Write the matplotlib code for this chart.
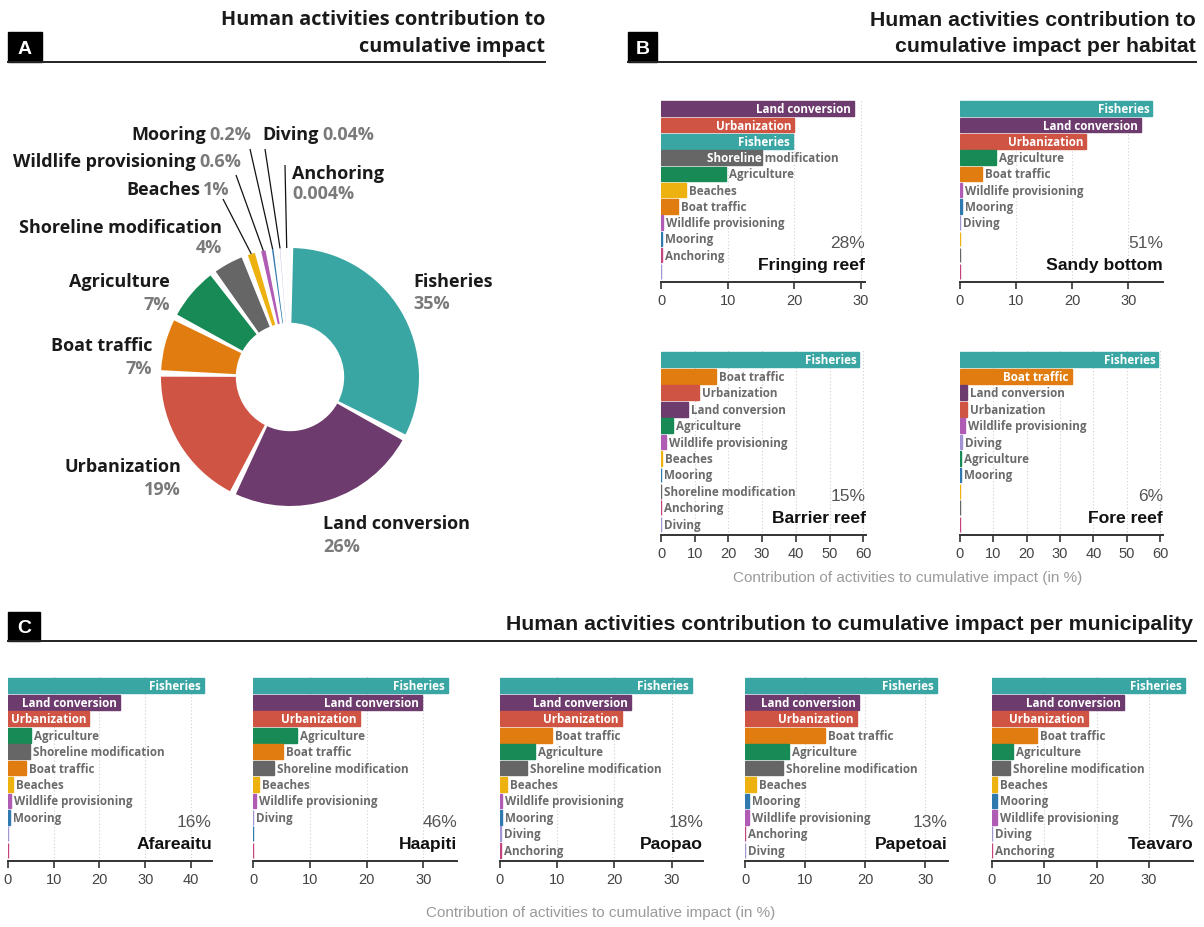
import numpy as np
import matplotlib
matplotlib.use("Agg")
import matplotlib.pyplot as plt
import matplotlib.transforms as mtransforms
from matplotlib.patches import Rectangle
from matplotlib.lines import Line2D

plt.rcParams['font.family'] = ['Open Sans', 'DejaVu Sans']

W, H = 1204, 928

COLORS = {
    "Fisheries": "#3aa6a4",
    "Land conversion": "#6e3b6e",
    "Urbanization": "#d05443",
    "Boat traffic": "#e17d10",
    "Agriculture": "#178a56",
    "Shoreline modification": "#666666",
    "Beaches": "#eeb210",
    "Wildlife provisioning": "#b05cb5",
    "Mooring": "#2f79af",
    "Diving": "#a393d3",
    "Anchoring": "#c2457f",
}

# panel A - overall contribution (%)
pie_names = ["Fisheries", "Land conversion", "Urbanization", "Boat traffic", "Agriculture",
             "Shoreline modification", "Beaches", "Wildlife provisioning", "Mooring",
             "Diving", "Anchoring"]
pie_values = [35, 26, 19, 7, 7, 4, 1, 0.6, 0.2, 0.04, 0.004]
pie_pct_labels = ["35%", "26%", "19%", "7%", "7%", "4%", "1%", "0.6%", "0.2%", "0.04%", "0.004%"]

# panel B - per habitat (%)
habitats = ["Fringing reef", "Sandy bottom", "Barrier reef", "Fore reef"]
habitat_share = ["28%", "51%", "15%", "6%"]

fringing_names = ["Land conversion", "Urbanization", "Fisheries", "Shoreline modification",
                  "Agriculture", "Beaches", "Boat traffic", "Wildlife provisioning", "Mooring",
                  "Anchoring", "Diving"]
fringing_values = [28.9, 20.0, 19.8, 15.2, 9.7, 3.8, 2.5, 0.25, 0.2, 0.2, 0]

sandy_names = ["Fisheries", "Land conversion", "Urbanization", "Agriculture", "Boat traffic",
               "Wildlife provisioning", "Mooring", "Diving", "Beaches", "Shoreline modification",
               "Anchoring"]
sandy_values = [34.3, 32.2, 22.5, 6.5, 3.9, 0.4, 0.35, 0.05, 0, 0, 0]

barrier_names = ["Fisheries", "Boat traffic", "Urbanization", "Land conversion", "Agriculture",
                 "Wildlife provisioning", "Beaches", "Mooring", "Shoreline modification",
                 "Anchoring", "Diving"]
barrier_values = [58.8, 16.4, 11.2, 8.1, 3.5, 1.5, 0.15, 0.1, 0.05, 0.03, 0.02]

fore_names = ["Fisheries", "Boat traffic", "Land conversion", "Urbanization",
              "Wildlife provisioning", "Diving", "Agriculture", "Mooring", "Beaches",
              "Shoreline modification", "Anchoring"]
fore_values = [59.5, 33.5, 2.2, 2.1, 1.5, 0.5, 0.3, 0.3, 0, 0, 0]

# panel C - per municipality (%)
municipalities = ["Afareaitu", "Haapiti", "Paopao", "Papetoai", "Teavaro"]
municipality_share = ["16%", "46%", "18%", "13%", "7%"]

afareaitu_names = ["Fisheries", "Land conversion", "Urbanization", "Agriculture",
                   "Shoreline modification", "Boat traffic", "Beaches", "Wildlife provisioning",
                   "Mooring", "Diving", "Anchoring"]
afareaitu_values = [42.9, 24.5, 17.8, 5.1, 4.8, 4.0, 1.0, 0.6, 0.4, 0, 0]

haapiti_names = ["Fisheries", "Land conversion", "Urbanization", "Agriculture", "Boat traffic",
                 "Shoreline modification", "Beaches", "Wildlife provisioning", "Diving",
                 "Mooring", "Anchoring"]
haapiti_values = [34.3, 29.8, 18.8, 7.7, 5.3, 3.7, 1.1, 0.5, 0.05, 0, 0]

paopao_names = ["Fisheries", "Land conversion", "Urbanization", "Boat traffic", "Agriculture",
                "Shoreline modification", "Beaches", "Wildlife provisioning", "Mooring",
                "Diving", "Anchoring"]
paopao_values = [33.6, 22.9, 21.3, 9.1, 6.2, 4.7, 1.2, 0.3, 0.3, 0.1, 0.1]

papetoai_names = ["Fisheries", "Land conversion", "Urbanization", "Boat traffic", "Agriculture",
                  "Shoreline modification", "Beaches", "Mooring", "Wildlife provisioning",
                  "Anchoring", "Diving"]
papetoai_values = [32.0, 19.0, 18.6, 13.4, 7.3, 6.3, 1.8, 0.7, 0.7, 0.05, 0.02]

teavaro_names = ["Fisheries", "Land conversion", "Urbanization", "Boat traffic", "Agriculture",
                 "Shoreline modification", "Beaches", "Mooring", "Wildlife provisioning",
                 "Diving", "Anchoring"]
teavaro_values = [36.8, 25.2, 18.3, 8.6, 4.0, 3.5, 1.0, 0.95, 0.95, 0.05, 0.02]

AXIS_LABEL = "Contribution of activities to cumulative impact (in %)"


def fig_rect(left, top, right, bottom):
    return [left / W, 1 - bottom / H, (right - left) / W, (bottom - top) / H]


def fig_xy(px, py):
    return px / W, 1 - py / H


fig = plt.figure(figsize=(W / 100, H / 100), dpi=100)


def header(letter, box, line_x0, line_x1, line_y, lines, title_x, title_ys, family, size):
    x0, y0, x1, y1 = box
    fig.patches.append(Rectangle(fig_xy(x0, y1), (x1 - x0) / W, (y1 - y0) / H,
                                 transform=fig.transFigure, color="black"))
    fig.text(*fig_xy((x0 + x1) / 2, (y0 + y1) / 2 + 1), letter, color="white",
             fontsize=14, fontweight="bold", family="Liberation Sans",
             ha="center", va="center")
    fig.lines.append(Line2D([line_x0 / W, line_x1 / W], [1 - line_y / H] * 2,
                            transform=fig.transFigure, color="#222222", lw=1.4))
    for txt, ty in zip(lines, title_ys):
        fig.text(*fig_xy(title_x, ty), txt, ha="right", va="center", fontsize=size,
                 fontweight="bold", family=family, color="#1a1a1a")


header("A", (8, 33, 42, 63), 8, 545, 63,
       ["Human activities contribution to", "cumulative impact"], 545, [20, 47],
       "Open Sans", 14.3)
header("B", (628, 33, 657, 63), 628, 1196, 63,
       ["Human activities contribution to", "cumulative impact per habitat"], 1196, [20, 47],
       "Liberation Sans", 15.3)
header("C", (8, 613, 40, 642), 8, 1196, 642,
       ["Human activities contribution to cumulative impact per municipality"], 1193, [625],
       "Liberation Sans", 15.3)

# ---- panel A: donut ----
CX, CY, R, L = 290, 378, 129, 1.7
ax_pie = fig.add_axes(fig_rect(CX - R * L, CY - R * L, CX + R * L, CY + R * L))

PIE_GAP_DEG = 2.9
total = sum(pie_values) / (1 - len(pie_values) * PIE_GAP_DEG / 360)
gap = total * PIE_GAP_DEG / 360
seq, cols = [], []
for n, v in zip(pie_names, pie_values):
    seq += [v, gap]
    cols += [COLORS[n], "white"]
wedges, _ = ax_pie.pie(seq, colors=cols, startangle=90 - PIE_GAP_DEG / 2, counterclock=False,
                       radius=1, wedgeprops=dict(width=0.58, linewidth=0))
for w in wedges[1::2]:
    w.set_visible(False)
slices = dict(zip(pie_names, wedges[0::2]))
ax_pie.set_xlim(-L, L)
ax_pie.set_ylim(-L, L)
ax_pie.axis("off")


def pie_xy(px, py):
    return (px - CX) / R, (CY - py) / R


pct = dict(zip(pie_names, pie_pct_labels))
lab_kw = dict(fontsize=13, fontweight="bold", va="center")

# two-line labels: name, x, y of name, y of percentage, alignment
for n, px, py1, py2, ha in [("Fisheries", 413, 282, 304, "left"),
                            ("Land conversion", 323, 524, 547, "left"),
                            ("Urbanization", 181, 467, 490, "right"),
                            ("Boat traffic", 152, 346, 369, "right"),
                            ("Agriculture", 170, 282, 305, "right"),
                            ("Shoreline modification", 222, 228, 248, "right"),
                            ("Anchoring", 292, 174, 194, "left")]:
    ax_pie.text(*pie_xy(px, py1), n, color="#1a1a1a", ha=ha, **lab_kw)
    ax_pie.text(*pie_xy(px, py2), pct[n], color="#7a7a7a", ha=ha, **lab_kw)

# one-line labels: name, junction x, y
for n, px, py in [("Beaches", 201, 190), ("Wildlife provisioning", 197, 162),
                  ("Mooring", 207, 135), ("Diving", 320, 135)]:
    ax_pie.text(*pie_xy(px - 1, py), n, color="#1a1a1a", ha="right", **lab_kw)
    ax_pie.text(*pie_xy(px + 2, py), pct[n], color="#7a7a7a", ha="left", **lab_kw)

# leader lines from label to slice edge
for n, px, py in [("Beaches", 223, 200), ("Wildlife provisioning", 236, 176),
                  ("Mooring", 250, 150), ("Diving", 265, 150), ("Anchoring", 285, 166)]:
    w = slices[n]
    a = np.deg2rad((w.theta1 + w.theta2) / 2)
    sx, sy = pie_xy(px, py)
    ax_pie.plot([sx, np.cos(a) * 1.0], [sy, np.sin(a) * 1.0], color="#111111", lw=0.9,
                clip_on=False, solid_capstyle="butt")

# ---- panels B and C: bar charts ----
bar_labels = []
LABEL_KW = dict(fontsize=8.4, fontweight="bold", va="center")


def bar_panel(rect, names, values, xmax, ticks, title, share):
    ax = fig.add_axes(fig_rect(*rect))
    rows = np.arange(len(names))
    colors = [COLORS[n] for n in names]
    bars = ax.barh(rows, values, height=0.9, color=colors, edgecolor=colors, linewidth=1.0,
                   zorder=2)
    ax.set_xlim(0, xmax)
    ax.set_ylim(10.65, -0.6)
    ax.set_xticks(ticks)
    ax.set_yticks([])
    for s in ["top", "left", "right"]:
        ax.spines[s].set_visible(False)
    ax.spines["bottom"].set_color("#333333")
    ax.spines["bottom"].set_linewidth(1.4)
    ax.tick_params(axis="x", length=5, width=1.2, color="#333333", labelcolor="#444444",
                   labelsize=10.5, pad=3)
    for lab in ax.get_xticklabels():
        lab.set_family("Liberation Sans")
    for t in ticks[1:]:
        ax.axvline(t, color="#d0d0d0", lw=0.8, ls=(0, (1, 2)), zorder=0)
    tr = mtransforms.blended_transform_factory(ax.transAxes, ax.transData)
    ax.text(1.0, 9.6, title, transform=tr, ha="right", va="center", fontsize=12.6,
            fontweight="bold", family="Liberation Sans", color="#111111")
    ax.text(1.0, 8.25, share, transform=tr, ha="right", va="center", fontsize=12.5,
            family="Liberation Sans", color="#555555")
    for bar, n, v in zip(bars, names, values):
        if v <= 0:
            continue
        t = ax.text(v, bar.get_y() + bar.get_height() / 2, n, ha="left", color="#6b6b6b",
                    zorder=4, **LABEL_KW)
        bar_labels.append((ax, bar, t, v))
    return ax


habitat_rects = [(661, 100, 865, 283), (960, 100, 1163, 283),
                 (661, 351, 866, 536), (960, 351, 1163, 536)]
habitat_data = [(fringing_names, fringing_values), (sandy_names, sandy_values),
                (barrier_names, barrier_values), (fore_names, fore_values)]
habitat_xmax = [30.6, 36.2, 60.8, 60.9]
habitat_ticks = [[0, 10, 20, 30], [0, 10, 20, 30], [0, 10, 20, 30, 40, 50, 60],
                 [0, 10, 20, 30, 40, 50, 60]]
for rect, (nm, vals), xm, tk, title, share in zip(habitat_rects, habitat_data, habitat_xmax,
                                                   habitat_ticks, habitats, habitat_share):
    bar_panel(rect, nm, vals, xm, tk, title, share)

muni_rects = [(8, 677, 212, 862), (253, 677, 457, 862), (500, 677, 703, 862),
              (745, 677, 948, 862), (992, 677, 1193, 862)]
muni_data = [(afareaitu_names, afareaitu_values), (haapiti_names, haapiti_values),
             (paopao_names, paopao_values), (papetoai_names, papetoai_values),
             (teavaro_names, teavaro_values)]
muni_xmax = [44.6, 35.9, 35.5, 33.8, 38.4]
muni_ticks = [[0, 10, 20, 30, 40], [0, 10, 20, 30], [0, 10, 20, 30], [0, 10, 20, 30],
              [0, 10, 20, 30]]
for rect, (nm, vals), xm, tk, title, share in zip(muni_rects, muni_data, muni_xmax,
                                                   muni_ticks, municipalities,
                                                   municipality_share):
    bar_panel(rect, nm, vals, xm, tk, title, share)

fig.text(*fig_xy(908, 578), AXIS_LABEL, ha="center", va="center", fontsize=11,
         family="Liberation Sans", color="#9a9a9a")
fig.text(*fig_xy(601, 913), AXIS_LABEL, ha="center", va="center", fontsize=11,
         family="Liberation Sans", color="#9a9a9a")

# place bar labels: inside (white) when they fit, otherwise after the bar
fig.canvas.draw()
renderer = fig.canvas.get_renderer()
PAD = 3
for ax, bar, t, v in bar_labels:
    w = t.get_window_extent(renderer).width
    inv = ax.transData.inverted()
    x_end = ax.transData.transform((v, 0))[0]
    x_zero = ax.transData.transform((0, 0))[0]
    y = t.get_position()[1]
    if v >= 15 and w + 1 <= x_end - x_zero:
        right = max(x_end - PAD, x_zero + w + 1)
        t.set_color("white")
        t.set_ha("right")
        t.set_x(inv.transform((right, 0))[0])
    else:
        left = min(x_end + PAD, ax.bbox.x1 - w - 26)
        xd = inv.transform((left, 0))[0]
        t.set_x(xd)
        tw = ax.text(xd, y, t.get_text(), ha="left", color="white", zorder=5,
                     clip_on=True, **LABEL_KW)
        tw.set_clip_path(bar)

fig.savefig("out.png", dpi=100)
